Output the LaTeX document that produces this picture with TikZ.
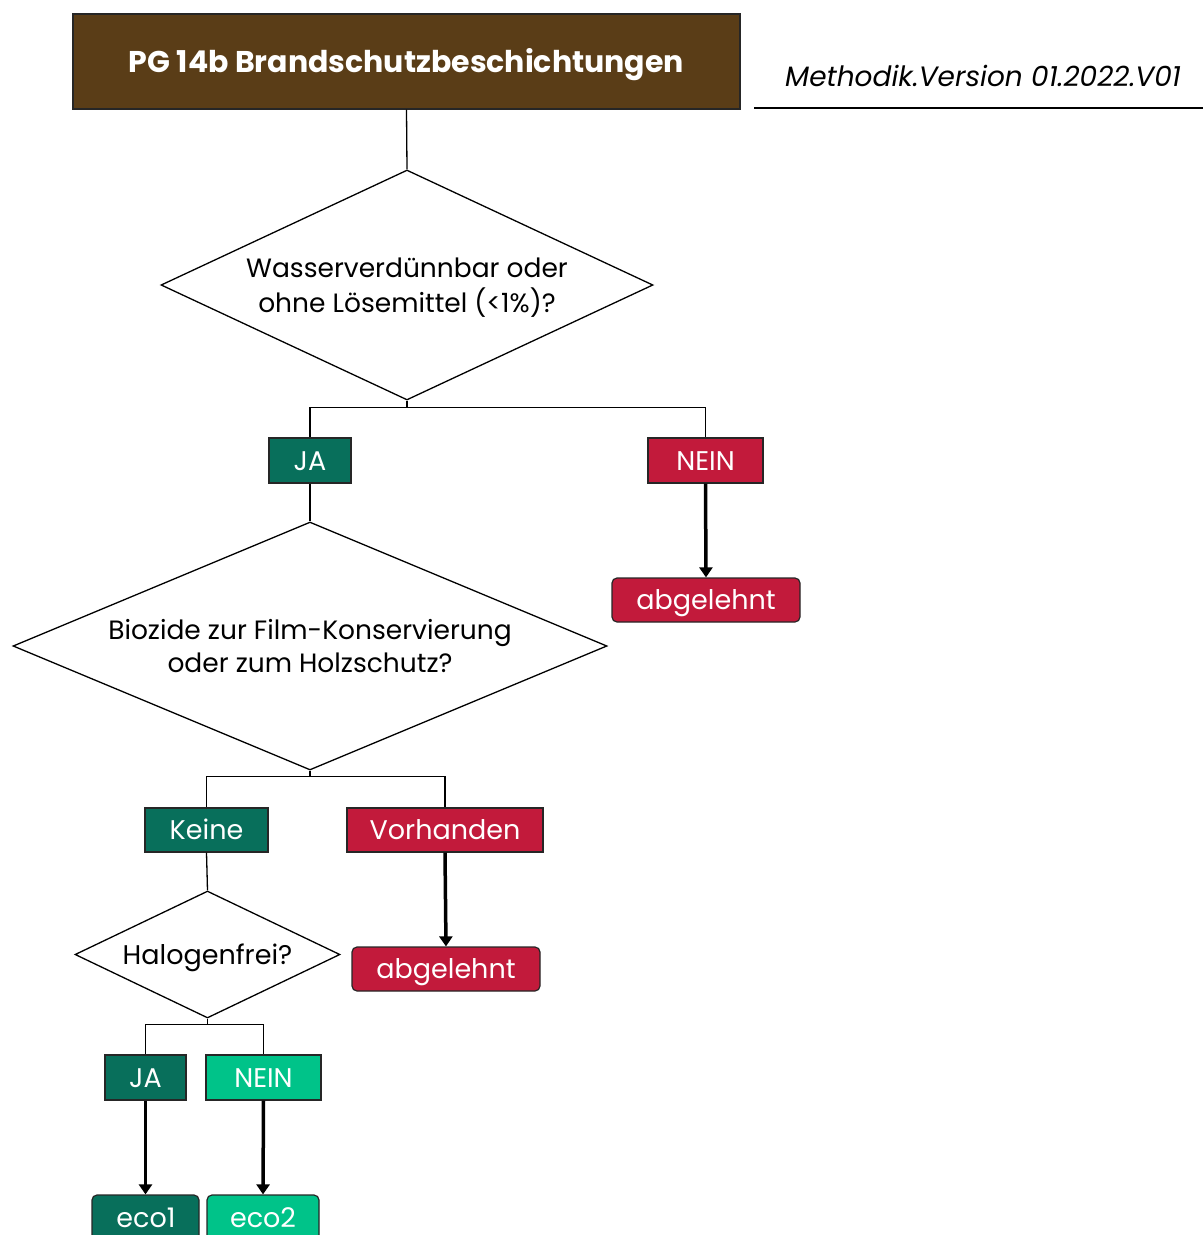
\documentclass[tikz,border=0pt]{standalone}
\usepackage{fontspec}
\setmainfont{Poppins}
\usetikzlibrary{shapes.geometric,arrows.meta}
\definecolor{brn}{HTML}{5A3D17}
\definecolor{dteal}{HTML}{086F5B}
\definecolor{crim}{HTML}{C21A3B}
\definecolor{bgreen}{HTML}{00C389}
\begin{document}
\begin{tikzpicture}[x=1pt,y=-1pt,
  lbl/.style={draw=black!85, line width=1.2pt, text=white, inner sep=0pt, minimum height=45pt,
    font=\fontsize{27}{30}\selectfont, text height=19pt, text depth=0pt},
  res/.style={lbl, rounded corners=5pt},
  dia/.style={draw, shape=diamond, inner sep=0pt, line width=1.3pt},
  dtext/.style={inner sep=0pt, align=center, font=\fontsize{26.5}{33}\selectfont},
  conn/.style={line width=1.3pt},
  arr/.style={line width=3.5pt, -{Triangle[length=10pt,width=13pt]}}]
\useasboundingbox (0,0) rectangle (1203,1235);
\clip (0,0) rectangle (1203,1235);
% title
\node[draw=black!85, line width=1.2pt, fill=brn, text=white, minimum width=667pt, minimum height=95pt,
  inner sep=0pt, font=\fontsize{30}{34}\selectfont\bfseries, text height=21pt, text depth=0pt] (t) at (406.5,61.5) {PG 14b Brandschutzbeschichtungen};
\node[font=\fontsize{28}{32}\selectfont\itshape, inner sep=0pt, text height=20pt, text depth=0pt] (m) at (983,76) {Methodik.Version 01.2022.V01};
\coordinate (ul) at (754,108);
\coordinate (ur) at (1203,108);
\draw[line width=2pt] (ul) -- (ur);
% diamond 1
\node[dia, minimum width=492pt, minimum height=230pt] (d1) at (407,285) {};
\node[dtext] (d1t) at (407,288.5) {\strut Wasserverdünnbar oder\\\strut ohne Lösemittel (<1\%)?};
\node[lbl, fill=dteal, minimum width=82pt] (ja1) at (310,460.5) {JA};
\node[lbl, fill=crim, minimum width=115pt] (nein1) at (705.5,460.5) {NEIN};
\node[res, fill=crim, minimum width=188pt, minimum height=44pt] (ab1) at (706,600) {abgelehnt};
\draw[conn] (t.south) -- (d1.north);
\draw[conn] (d1.south) -- ++(0,7) coordinate (j1) -| (ja1.north);
\draw[conn] (j1) -| (nein1.north);
\draw[arr] (nein1.south) -- (ab1.north);
% diamond 2
\node[dia, minimum width=594pt, minimum height=248pt] (d2) at (310,646) {};
\node[dtext] (d2t) at (310,649.5) {\strut Biozide zur Film-Konservierung\\\strut oder zum Holzschutz?};
\draw[conn] (ja1.south) -- (d2.north);
\node[lbl, fill=dteal, minimum width=123pt, minimum height=44pt] (keine) at (206.5,830) {Keine};
\node[lbl, fill=crim, minimum width=196pt, minimum height=44pt] (vorh) at (445,830) {Vorhanden};
\node[res, fill=crim, minimum width=188pt, minimum height=44pt] (ab2) at (446,969) {abgelehnt};
\draw[conn] (d2.south) -- ++(0,6) coordinate (j2) -| (keine.north);
\draw[conn] (j2) -| (vorh.north);
\draw[arr] (vorh.south) -- (ab2.north);
% diamond 3
\node[dia, minimum width=265pt, minimum height=127pt] (d3) at (207.5,954.5) {};
\node[inner sep=0pt, font=\fontsize{27}{30}\selectfont, text height=19pt, text depth=0pt] (d3t) at (207.5,955) {Halogenfrei?};
\draw[conn] (keine.south) -- (d3.north);
\node[lbl, fill=dteal, minimum width=81pt] (ja2) at (145.5,1077.5) {JA};
\node[lbl, fill=bgreen, minimum width=115pt] (nein2) at (263.5,1077.5) {NEIN};
\node[res, fill=dteal, minimum width=107pt, minimum height=56pt] (eco1) at (145.5,1223) {};
\node[res, fill=bgreen, minimum width=112pt, minimum height=56pt] (eco2) at (263,1223) {};
\node[text=white, inner sep=0pt, font=\fontsize{27}{30}\selectfont, text height=19pt, text depth=0pt] (e1t) at (146,1218) {eco1};
\node[text=white, inner sep=0pt, font=\fontsize{27}{30}\selectfont, text height=19pt, text depth=0pt] (e2t) at (263,1218) {eco2};
\draw[conn] (d3.south) -- ++(0,6) coordinate (j3) -| (ja2.north);
\draw[conn] (j3) -| (nein2.north);
\draw[arr] (ja2.south) -- (eco1.north);
\draw[arr] (nein2.south) -- (eco2.north);
\end{tikzpicture}
\end{document}
